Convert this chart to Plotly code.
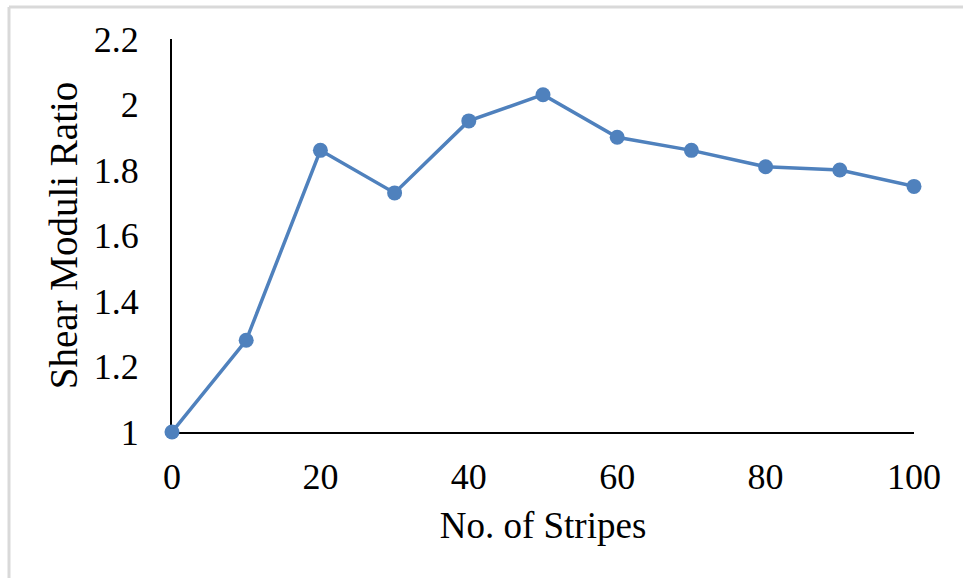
import plotly.graph_objects as go

# Shear moduli ratio versus number of stripes
stripes = [0, 10, 20, 30, 40, 50, 60, 70, 80, 90, 100]
ratio = [1.00, 1.28, 1.86, 1.73, 1.95, 2.03, 1.90, 1.86, 1.81, 1.80, 1.75]

x_ticks = [0, 20, 40, 60, 80, 100]
y_ticks = [1.0, 1.2, 1.4, 1.6, 1.8, 2.0, 2.2]
y_tick_text = ["1", "1.2", "1.4", "1.6", "1.8", "2", "2.2"]

W, H = 963, 578
ML, MR, MT, MB = 172, 49, 39, 146
FONT = "Liberation Serif"
BLUE = "#4F81BD"

fig = go.Figure()
fig.add_trace(go.Scatter(
    x=stripes, y=ratio, mode="lines+markers",
    line=dict(color=BLUE, width=3.5),
    marker=dict(color=BLUE, size=15),
    cliponaxis=False, showlegend=False,
))

plot_w = W - ML - MR
plot_h = H - MT - MB
# light grey frame along the top and left edges of the figure
fx0 = (9 - ML) / plot_w
fy0 = (H - MB - 7) / plot_h
fig.add_shape(type="line", xref="paper", yref="paper",
              x0=fx0, x1=(W - ML + 5) / plot_w, y0=fy0, y1=fy0,
              line=dict(color="#d9d9d9", width=3))
fig.add_shape(type="line", xref="paper", yref="paper",
              x0=fx0, x1=fx0, y0=fy0, y1=-(MB + 5) / plot_h,
              line=dict(color="#d9d9d9", width=3))

fig.update_layout(
    width=W, height=H,
    margin=dict(l=ML, r=MR, t=MT, b=MB),
    paper_bgcolor="white", plot_bgcolor="white",
    font=dict(family=FONT, size=36, color="black"),
    xaxis=dict(
        range=[0, 100], tickvals=x_ticks, showgrid=False, zeroline=False,
        showline=True, linecolor="black", linewidth=2, layer="below traces",
        ticks="", ticklabelstandoff=12,
        title=dict(text="No. of Stripes", standoff=16, font=dict(size=37)),
    ),
    yaxis=dict(
        range=[1, 2.2], tickvals=y_ticks, ticktext=y_tick_text,
        showgrid=False, zeroline=False,
        showline=True, linecolor="black", linewidth=2, layer="below traces",
        ticks="", ticklabelstandoff=24,
        title=dict(text="Shear Moduli Ratio", standoff=4, font=dict(size=39)),
    ),
)

fig.write_html("out.html")
